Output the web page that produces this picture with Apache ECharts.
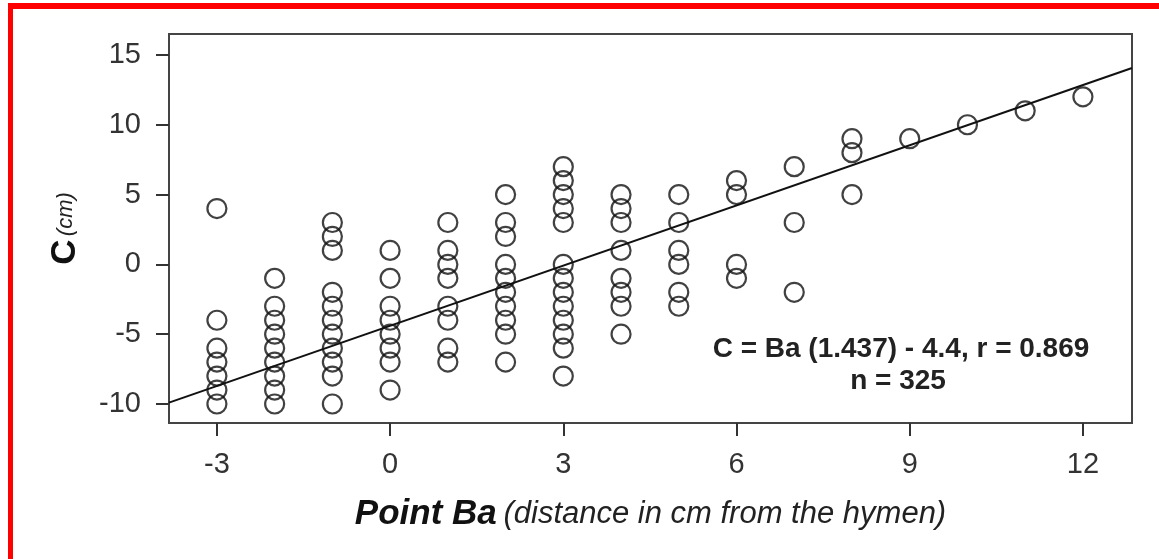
<!DOCTYPE html>
<html>
<head>
<meta charset="utf-8">
<script src="https://cdn.jsdelivr.net/npm/echarts@6/dist/echarts.min.js"></script>
<style>
html,body{margin:0;padding:0;background:#fff;}
#chart{width:1159px;height:559px;}
</style>
</head>
<body>
<div id="chart"></div>
<script>
// Point Ba (x) and C (y) for each plotted observation
const baValues = [
  -3,-3,-3,-3,-3,-3,-3,
  -2,-2,-2,-2,-2,-2,-2,-2,-2,
  -1,-1,-1,-1,-1,-1,-1,-1,-1,-1,-1,
  0,0,0,0,0,0,0,0,
  1,1,1,1,1,1,1,1,
  2,2,2,2,2,2,2,2,2,2,
  3,3,3,3,3,3,3,3,3,3,3,3,3,
  4,4,4,4,4,4,4,4,
  5,5,5,5,5,5,
  6,6,6,6,
  7,7,7,
  8,8,8,
  9,10,11,12
];
const cValues = [
  4,-4,-6,-7,-8,-9,-10,
  -1,-3,-4,-5,-6,-7,-8,-9,-10,
  3,2,1,-2,-3,-4,-5,-6,-7,-8,-10,
  1,-1,-3,-4,-5,-6,-7,-9,
  3,1,0,-1,-3,-4,-6,-7,
  5,3,2,0,-1,-2,-3,-4,-5,-7,
  7,6,5,4,3,0,-1,-2,-3,-4,-5,-6,-8,
  5,4,3,1,-1,-2,-3,-5,
  5,3,1,0,-2,-3,
  6,5,0,-1,
  7,3,-2,
  9,8,5,
  9,10,11,12
];
const xTicks = [-3, 0, 3, 6, 9, 12];
const yTicks = [-10, -5, 0, 5, 10, 15];
const xRange = [-3.83, 12.85];
const yRange = [-11.36, 16.5];
// regression: C = Ba * slope + intercept
const slope = 1.437;
const intercept = -4.4;
const annotationLines = ['C = Ba (1.437) - 4.4, r = 0.869', 'n = 325'];

const points = baValues.map((b, i) => [b, cValues[i]]);
const regLine = xRange.map(x => [x, x * slope + intercept]);

const FONT = '"Liberation Sans", Arial, Helvetica, sans-serif';
const chart = echarts.init(document.getElementById('chart'), null, {renderer: 'canvas'});
chart.setOption({
  animation: false,
  backgroundColor: '#fff',
  grid: {
    left: 169, right: 27, top: 34, bottom: 136,
    show: true, borderColor: '#444', borderWidth: 2, backgroundColor: '#fff'
  },
  xAxis: {
    type: 'value', min: xRange[0], max: xRange[1],
    axisLine: {show: false, onZero: false},
    splitLine: {show: false},
    axisTick: {show: true, inside: false, length: 13, customValues: xTicks, lineStyle: {color: '#333', width: 2}},
    axisLabel: {customValues: xTicks, margin: 27, fontSize: 29, color: '#333', fontFamily: FONT},
    name: '{a|Point Ba}  {b|(distance in cm from the hymen)}',
    nameLocation: 'middle', nameGap: 74,
    nameTextStyle: {
      rich: {
        a: {fontSize: 35, fontWeight: 'bold', fontStyle: 'italic', color: '#111', fontFamily: FONT},
        b: {fontSize: 31, fontStyle: 'italic', color: '#222', fontFamily: FONT}
      }
    }
  },
  yAxis: {
    type: 'value', min: yRange[0], max: yRange[1],
    axisLine: {show: false, onZero: false},
    splitLine: {show: false},
    axisTick: {show: true, inside: false, length: 13, customValues: yTicks, lineStyle: {color: '#333', width: 2}},
    axisLabel: {customValues: yTicks, margin: 28, fontSize: 29, color: '#333', fontFamily: FONT},
    name: '{a|C} {b|(cm)}',
    nameLocation: 'middle', nameGap: 86, nameRotate: 90,
    nameTextStyle: {
      rich: {
        a: {fontSize: 35, fontWeight: 'bold', color: '#111', fontFamily: FONT},
        b: {fontSize: 22, fontStyle: 'italic', color: '#222', fontFamily: FONT}
      }
    }
  },
  series: [
    {
      type: 'scatter',
      data: points,
      symbol: 'circle',
      symbolSize: 19,
      itemStyle: {color: 'rgba(0,0,0,0)', borderColor: '#111', borderWidth: 2.2},
      z: 3
    },
    {
      type: 'line',
      data: regLine,
      symbol: 'none',
      lineStyle: {color: '#111', width: 2},
      z: 2
    }
  ],
  graphic: [
    {type: 'rect', left: 8, top: 3, shape: {width: 1151, height: 6}, style: {fill: '#ff0000'}, z: 100},
    {type: 'rect', left: 8, top: 3, shape: {width: 5, height: 556}, style: {fill: '#ff0000'}, z: 100},
    {type: 'text', x: 901, y: 349, style: {text: annotationLines[0], textAlign: 'center', textVerticalAlign: 'middle', font: 'bold 28px ' + FONT, fill: '#222'}, z: 50},
    {type: 'text', x: 898, y: 381, style: {text: annotationLines[1], textAlign: 'center', textVerticalAlign: 'middle', font: 'bold 28px ' + FONT, fill: '#222'}, z: 50}
  ]
});
</script>
</body>
</html>
